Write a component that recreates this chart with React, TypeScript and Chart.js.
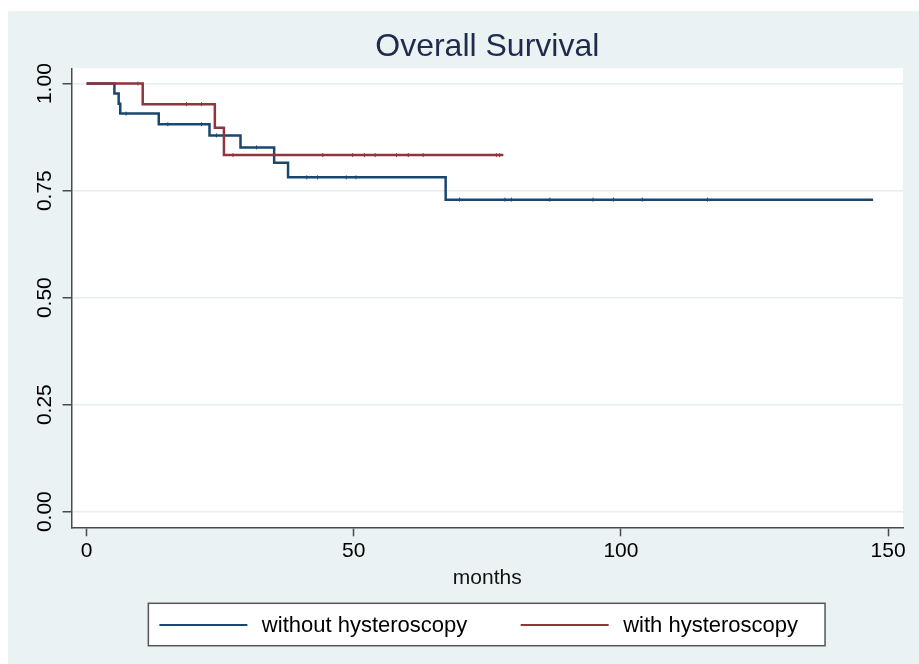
import React, { useEffect, useRef } from 'react';
import { Chart, registerables } from 'chart.js';

Chart.register(...registerables);

// ---------- data ----------
const TITLE = 'Overall Survival';
const X_TITLE = 'months';
const X_TICKS = [0, 50, 100, 150];
const Y_TICKS = [0, 0.25, 0.5, 0.75, 1];
const SERIES_LABELS = ['without hysteroscopy', 'with hysteroscopy'];

// Kaplan-Meier steps (time, survival after the event)
const withoutTimes = [0, 5.2, 6.0, 6.3, 13.5, 23.0, 28.8, 35.1, 37.7, 67.2, 147.2];
const withoutSurv = [1, 0.977, 0.953, 0.93, 0.905, 0.879, 0.851, 0.815, 0.781, 0.729, 0.729];
const withTimes = [0, 10.5, 24.0, 25.7, 78.0];
const withSurv = [1, 0.952, 0.897, 0.833, 0.833];

// censoring marks
const withoutCensorTimes = [7.4, 15.2, 21.5, 24.3, 31.8, 41.2, 43.2, 48.6, 50.4, 69.8, 78.3, 79.5, 86.7, 94.8, 98.6, 104.0, 116.2];
const withoutCensorSurv = [0.93, 0.905, 0.905, 0.879, 0.851, 0.781, 0.781, 0.781, 0.781, 0.729, 0.729, 0.729, 0.729, 0.729, 0.729, 0.729, 0.729];
const withCensorTimes = [9.6, 18.7, 21.5, 27.4, 44.2, 49.8, 52.0, 54.0, 58.0, 60.2, 63.0, 76.7, 77.3];
const withCensorSurv = [1, 0.952, 0.952, 0.833, 0.833, 0.833, 0.833, 0.833, 0.833, 0.833, 0.833, 0.833, 0.833];

// ---------- style ----------
const FONT = '"Liberation Sans", Arial, Helvetica, sans-serif';
const BLUE = '#1a476f';
const RED = '#90353b';
const AXIS = '#4a4a4a';
const GRID = '#e6eef0';
const BG = '#eaf2f3';
const TITLE_COLOR = '#1e2b4d';
const TICK_SIZE = 21;

const pts = (xs: number[], ys: number[]) => xs.map((x, i) => ({ x, y: ys[i] }));

const plotBackground = {
  id: 'plotBackground',
  beforeDraw(chart: any) {
    const { ctx, chartArea } = chart;
    ctx.save();
    ctx.fillStyle = '#ffffff';
    ctx.fillRect(chartArea.left, chartArea.top, chartArea.right - chartArea.left, chartArea.bottom - chartArea.top);
    ctx.restore();
  },
};

const centerTitle = {
  id: 'centerTitle',
  afterLayout(chart: any) {
    if (chart.titleBlock) {
      chart.titleBlock.left = chart.chartArea.left;
      chart.titleBlock.right = chart.chartArea.right;
    }
  },
};

const boxLegend = {
  id: 'boxLegend',
  afterDraw(chart: any) {
    const { ctx, chartArea } = chart;
    const items = chart.data.datasets.filter((d: any) => d.inLegend);
    const fontSize = 22;
    ctx.save();
    ctx.font = `${fontSize}px ${FONT}`;
    const lineLen = 88;
    const gapText = 14.5;
    const gapItem = 53.4;
    const padL = 11;
    const padR = 27;
    const widths = items.map((d: any) => ctx.measureText(d.label).width);
    let total = padL + padR;
    items.forEach((_: any, i: number) => {
      total += lineLen + gapText + widths[i] + (i < items.length - 1 ? gapItem : 0);
    });
    const cx = (chartArea.left + chartArea.right) / 2 - 0.6;
    const boxLeft = cx - total / 2;
    const boxTop = chartArea.bottom + 76;
    const boxH = 42.4;
    ctx.fillStyle = '#ffffff';
    ctx.fillRect(boxLeft, boxTop, total, boxH);
    ctx.strokeStyle = '#555555';
    ctx.lineWidth = 1.5;
    ctx.strokeRect(boxLeft, boxTop, total, boxH);
    const midY = boxTop + 21.7;
    let x = boxLeft + padL;
    items.forEach((d: any, i: number) => {
      ctx.strokeStyle = d.borderColor;
      ctx.lineWidth = 2.2;
      ctx.beginPath();
      ctx.moveTo(x, midY);
      ctx.lineTo(x + lineLen, midY);
      ctx.stroke();
      ctx.fillStyle = '#000000';
      ctx.textBaseline = 'middle';
      ctx.textAlign = 'left';
      ctx.fillText(d.label, x + lineLen + gapText, midY + 0.7);
      x += lineLen + gapText + widths[i] + gapItem;
    });
    ctx.restore();
  },
};

export default function App() {
  const ref = useRef<HTMLCanvasElement>(null);

  useEffect(() => {
    const canvas = ref.current;
    if (!canvas) return;
    // half the length of a y tick label, used to centre the rotated labels on their ticks
    const mctx = canvas.getContext('2d')!;
    mctx.font = `${TICK_SIZE}px ${FONT}`;
    const halfLabel = mctx.measureText('0.00').width / 2;

    const chart = new Chart(canvas, {
      type: 'line',
      data: {
        datasets: [
          {
            label: SERIES_LABELS[0],
            inLegend: true,
            data: pts(withoutTimes, withoutSurv),
            borderColor: BLUE,
            backgroundColor: BLUE,
            borderWidth: 2.5,
            stepped: 'before',
            pointRadius: 0,
            fill: false,
            order: 2,
          } as any,
          {
            label: SERIES_LABELS[1],
            inLegend: true,
            data: pts(withTimes, withSurv),
            borderColor: RED,
            backgroundColor: RED,
            borderWidth: 2.5,
            stepped: 'before',
            pointRadius: 0,
            fill: false,
            order: 1,
          } as any,
          {
            label: 'censored (without)',
            data: pts(withoutCensorTimes, withoutCensorSurv),
            showLine: false,
            pointStyle: 'line',
            rotation: 90,
            pointRadius: 2,
            borderColor: BLUE,
            borderWidth: 1,
            order: 2,
          } as any,
          {
            label: 'censored (with)',
            data: pts(withCensorTimes, withCensorSurv),
            showLine: false,
            pointStyle: 'line',
            rotation: 90,
            pointRadius: 2,
            borderColor: RED,
            borderWidth: 1,
            order: 1,
          } as any,
        ],
      },
      options: {
        responsive: false,
        animation: false,
        devicePixelRatio: 1,
        layout: { padding: { left: 2, right: 16, top: 0, bottom: 72.3 } },
        plugins: {
          legend: { display: false },
          tooltip: { enabled: false },
          title: {
            display: true,
            text: TITLE,
            color: TITLE_COLOR,
            font: { family: FONT, size: 32, weight: 'normal' },
            padding: { top: 28.3, bottom: 1.6 },
          },
        },
        scales: {
          x: {
            type: 'linear',
            min: -2.81,
            max: 152.8,
            afterBuildTicks: (s: any) => {
              s.ticks = X_TICKS.map((v) => ({ value: v }));
            },
            grid: {
              drawOnChartArea: false,
              drawTicks: true,
              tickLength: 9,
              tickColor: AXIS,
              tickWidth: 1.5,
            },
            border: { display: true, color: AXIS, width: 1.5 },
            ticks: {
              color: '#000000',
              font: { family: FONT, size: TICK_SIZE },
              padding: 2,
              maxRotation: 0,
              autoSkip: false,
              callback: (v: any) => String(v),
            },
            title: {
              display: true,
              text: X_TITLE,
              color: '#111111',
              font: { family: FONT, size: 21 },
              padding: { top: 0.6, bottom: 0.4 },
            },
          },
          y: {
            type: 'linear',
            min: -0.0365,
            max: 1.0358,
            afterBuildTicks: (s: any) => {
              s.ticks = Y_TICKS.map((v) => ({ value: v }));
            },
            grid: {
              color: GRID,
              lineWidth: 1.5,
              drawTicks: true,
              tickLength: 9,
              tickColor: AXIS,
              tickWidth: 1.5,
            },
            border: { display: true, color: AXIS, width: 1.5 },
            ticks: {
              color: '#000000',
              font: { family: FONT, size: TICK_SIZE },
              minRotation: 90,
              maxRotation: 90,
              crossAlign: 'near',
              labelOffset: -halfLabel,
              padding: 17.7,
              autoSkip: false,
              callback: (v: any) => Number(v).toFixed(2),
            },
          },
        },
      } as any,
      plugins: [plotBackground, centerTitle, boxLegend],
    });
    return () => chart.destroy();
  }, []);

  return (
    <div style={{ position: 'absolute', left: 0, top: 0, width: 919, height: 664, background: '#ffffff', overflow: 'hidden' }}>
      <div style={{ position: 'absolute', left: 8, top: 11, right: 0, bottom: 0, background: BG }} />
      <canvas ref={ref} width={919} height={664} style={{ position: 'absolute', left: 0, top: 0, width: 919, height: 664 }} />
    </div>
  );
}
